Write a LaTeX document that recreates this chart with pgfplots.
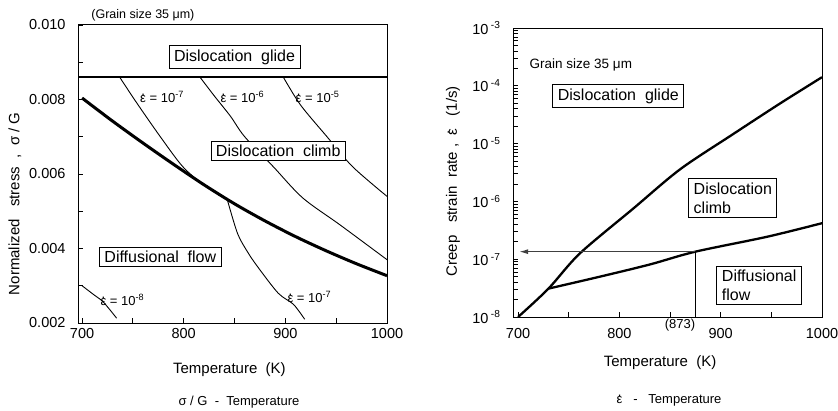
\documentclass[border=0pt]{standalone}
\usepackage{fontspec}
\setmainfont{Liberation Sans}
\usepackage{pgfplots}
\pgfplotsset{compat=1.18}
\usetikzlibrary{arrows.meta}

% epsilon with a centred dot above
\newcommand{\ed}{\leavevmode\hbox{\ooalign{ε\cr\hidewidth\raisebox{0.5em}{.}\hidewidth\cr}}}

\begin{document}
\begin{tikzpicture}
\useasboundingbox (0pt,0pt) rectangle (838pt,410pt);
\tikzset{
  box/.style={draw=black, line width=1pt, fill=white, inner xsep=5pt, inner ysep=4pt,
    font=\fontsize{16}{19}\selectfont},
  elab/.style={anchor=west, inner sep=0pt, font=\fontsize{13}{15}\selectfont},
}
\pgfplotsset{
  diag/.style={
    scale only axis, anchor=south west, clip=false,
    xtick pos=bottom, ytick pos=left, tick align=inside,
    major tick length=5pt, minor tick length=5pt,
    tick style={black, line width=0.8pt},
    axis line style={line width=1pt},
    ticklabel style={font=\fontsize{14.5}{16}\selectfont},
    label style={font=\fontsize{15}{17}\selectfont},
    scaled x ticks=false, scaled y ticks=false,
  },
}

% ---------- left: sigma/G vs T ----------
\begin{axis}[diag, at={(78pt,87pt)}, width=309pt, height=298pt,
  xmin=696, xmax=1000, ymin=0.002, ymax=0.010,
  xtick={700,800,900,1000}, xticklabels={700,800,900,1000},
  minor xtick={750,850,950},
  ytick={0.002,0.004,0.006,0.008,0.010},
  yticklabels={0.002,0.004,0.006,0.008,0.010},
  minor ytick={0.003,0.005,0.007,0.009},
  yticklabel style={xshift=-9pt}, xticklabel style={yshift=-2pt},
  xlabel={Temperature\ \ (K)},
  xlabel style={at={(rel axis cs:0.49,-0.158)}, anchor=center},
  ylabel={Normalized\ \ \ stress\ \ ,\ \ σ\ /\ G},
  ylabel style={at={(rel axis cs:-0.204,0.40)}, anchor=center},
]
% glide boundary
\addplot[black, line width=2.6pt] coordinates {(696,0.0086) (1000,0.0086)};
% climb / diffusional boundary
\addplot[black, line width=3pt, smooth] coordinates {
  (700,0.00804) (730,0.00742) (760,0.00683) (790,0.00626) (820,0.00571)
  (850,0.00520) (880,0.00474) (910,0.00432) (940,0.00394) (970,0.00359) (1000,0.00327)};
% iso strain-rate curves
\addplot[black, line width=0.9pt, smooth] coordinates {
  (737,0.0086) (754,0.0079) (777,0.0070) (799,0.0062) (820,0.0057) (843,0.0053)};
\addplot[black, line width=0.9pt, smooth] coordinates {
  (843,0.0053) (853,0.0044) (863,0.0039) (873,0.0035) (893,0.0028) (908,0.0025) (919,0.0021)};
\addplot[black, line width=0.9pt, smooth] coordinates {
  (816,0.0086) (830,0.0081) (846,0.00755) (860,0.0070) (888,0.0062) (917,0.00536) (954,0.00463) (1000,0.0037)};
\addplot[black, line width=0.9pt, smooth] coordinates {
  (898,0.0086) (915,0.00785) (941,0.0070) (966,0.0062) (1000,0.0054)};
\addplot[black, line width=0.9pt, smooth] coordinates {
  (700,0.0030) (712,0.00275) (721,0.00256) (734,0.00213)};

\node[box] at (axis cs:850,0.00914) {Dislocation\ \ glide};
\node[box] at (axis cs:893,0.00662) {Dislocation\ \ climb};
\node[box] at (axis cs:777,0.00377) {Diffusional\ \ flow};
\node[elab] at (axis cs:757,0.00807) {\ed\ = 10\textsuperscript{-7}};
\node[elab] at (axis cs:836,0.00807) {\ed\ = 10\textsuperscript{-6}};
\node[elab] at (axis cs:910,0.00807) {\ed\ = 10\textsuperscript{-5}};
\node[elab] at (axis cs:902,0.00270) {\ed\ = 10\textsuperscript{-7}};
\node[elab] at (axis cs:718,0.00262) {\ed\ = 10\textsuperscript{-8}};
\node[font=\fontsize{12.5}{15}\selectfont] at (rel axis cs:0.21,1.034) {(Grain size 35 μm)};
\node[font=\fontsize{13}{15}\selectfont] at (rel axis cs:0.521,-0.265) {σ / G\ \ -\ \ Temperature};
\end{axis}

% ---------- right: strain rate vs T ----------
\begin{axis}[diag, at={(513pt,93pt)}, width=309pt, height=289pt,
  xmin=695, xmax=1000, ymode=log, ymin=1e-8, ymax=1e-3,
  xtick={700,800,900,1000}, xticklabels={700,800,900,1000},
  minor xtick={750,850,950},
  ytick={1e-8,1e-7,1e-6,1e-5,1e-4,1e-3},
  yticklabels={10\,\textsuperscript{-8},10\,\textsuperscript{-7},10\,\textsuperscript{-6},
    10\,\textsuperscript{-5},10\,\textsuperscript{-4},10\,\textsuperscript{-3}},
  minor ytick={},
  yticklabel style={xshift=-9pt}, xticklabel style={yshift=-8pt},
  xlabel={Temperature\ \ (K)},
  xlabel style={at={(rel axis cs:0.476,-0.159)}, anchor=center},
  ylabel={Creep\ \ \ strain\ \ rate\ ,\ \ \ed\ \ \ (1/s)},
  ylabel style={at={(rel axis cs:-0.194,0.47)}, anchor=center},
]
\addplot[black, line width=2.3pt, smooth] coordinates {
  (700,1.0e-8) (730,3.1e-8) (761,1.26e-7) (814,7.6e-7) (860,3.6e-6)
  (912,1.45e-5) (959,5.0e-5) (1000,1.41e-4)};
\addplot[black, line width=2.3pt, smooth] coordinates {
  (730,3.1e-8) (781,5.0e-8) (830,8.1e-8) (875,1.35e-7) (946,2.45e-7) (1000,4.2e-7)};
\addplot[black!75, line width=1.3pt, -{Latex[length=9pt,width=5pt]}] coordinates {
  (875,1.35e-7) (701,1.35e-7)};
\addplot[black, line width=1pt] coordinates {(875,1e-8) (875,1.35e-7)};

\node[anchor=west, font=\fontsize{13.5}{16}\selectfont] at (axis cs:708,2.3e-4) {Grain size 35 μm};
\node[box] at (axis cs:799,6.6e-5) {Dislocation\ \ glide};
\node[box, align=left] at (axis cs:912,1.15e-6) {Dislocation\\climb};
\node[box, align=left] at (axis cs:938,3.5e-8) {Diffusional\\flow};
\node[anchor=south east, inner sep=1pt, font=\fontsize{13}{15}\selectfont] at (axis cs:876,5.4e-9) {(873)};
\node[font=\fontsize{13}{15}\selectfont] at (rel axis cs:0.505,-0.287) {\ed\ \ \ -\ \ \ Temperature};
\end{axis}
\end{tikzpicture}
\end{document}
